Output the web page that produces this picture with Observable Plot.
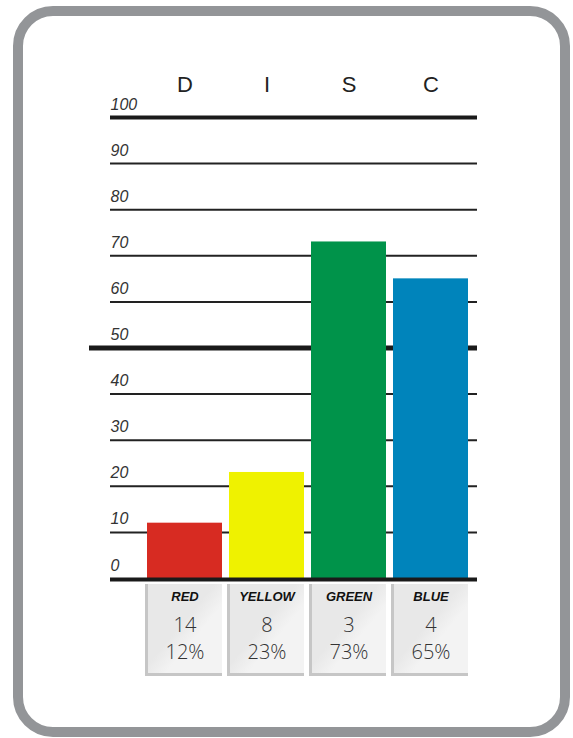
<!DOCTYPE html>
<html>
<head>
<meta charset="utf-8">
<script src="https://cdn.jsdelivr.net/npm/d3@7"></script>
<script src="https://cdn.jsdelivr.net/npm/@observablehq/plot@0.6"></script>
<style>
  html, body { margin: 0; padding: 0; background: #fff; }
  #wrap { position: relative; width: 573px; height: 738px; overflow: hidden; }
  #border { position: absolute; left: 13px; top: 6px; width: 537px; height: 711px;
            border: 10px solid #939598; border-radius: 40px; }
  #chart { position: absolute; left: 0; top: 0; }
</style>
</head>
<body>
<div id="wrap">
  <div id="border"></div>
  <div id="chart"></div>
</div>
<script>
const categories = ["D", "I", "S", "C"];
const colorNames = ["RED", "YELLOW", "GREEN", "BLUE"];
const counts = [14, 8, 3, 4];
const percents = [12, 23, 73, 65];
const barColors = ["#d72b22", "#eff200", "#00934a", "#0084bb"];
const yTicks = [0, 10, 20, 30, 40, 50, 60, 70, 80, 90, 100];

const data = categories.map((c, i) => ({
  cat: c, name: colorNames[i], count: counts[i], pct: percents[i], color: barColors[i]
}));

const defs = () => {
  const s = d3.create("svg:defs");
  const g = s.append("linearGradient").attr("id", "boxgrad")
    .attr("x1", "0").attr("y1", "0").attr("x2", "1").attr("y2", "1");
  g.append("stop").attr("offset", "0.45").attr("stop-color", "#e8e8e8");
  g.append("stop").attr("offset", "0.62").attr("stop-color", "#f3f3f3");
  return s.node();
};

const chart = Plot.plot({
  width: 573,
  height: 738,
  marginTop: 117,
  marginBottom: 160,
  marginLeft: 89,
  marginRight: 96,
  style: { background: "transparent", overflow: "visible" },
  x: { domain: categories, paddingInner: 0.0854, paddingOuter: 0.4085, align: 0.866, axis: null },
  y: { domain: [0, 100], axis: null },
  marks: [
    defs,
    Plot.ruleY(yTicks.filter(v => v !== 0 && v !== 50 && v !== 100), { stroke: "#222", strokeWidth: 2, insetLeft: 21 }),
    Plot.ruleY([100], { stroke: "#1a1a1a", strokeWidth: 4, insetLeft: 21 }),
    Plot.ruleY([50], { stroke: "#1a1a1a", strokeWidth: 5 }),
    Plot.text(yTicks, {
      y: d => d, text: d => String(d), frameAnchor: "left", dx: 21, dy: -8,
      textAnchor: "start", lineAnchor: "bottom", fontStyle: "italic", fontSize: 16,
      fill: "#333", fontFamily: "Liberation Sans, Arial, sans-serif"
    }),
    Plot.barY(data, { x: "cat", y: "pct", fill: "color" }),
    Plot.ruleY([0], { stroke: "#1a1a1a", strokeWidth: 4, insetLeft: 21, dy: 1 }),
    Plot.text(data, {
      x: "cat", text: "cat", frameAnchor: "top", dy: -33, lineAnchor: "middle",
      fontSize: 22, fill: "#222", fontFamily: "Liberation Sans, Arial, sans-serif"
    }),
    Plot.cell(data, { x: "cat", fill: "#c6c6c6", insetTop: 467, insetBottom: -98, insetLeft: -2, insetRight: 0 }),
    Plot.cell(data, { x: "cat", fill: "url(#boxgrad)", insetTop: 467, insetBottom: -95, insetLeft: 1, insetRight: 0 }),
    Plot.text(data, {
      x: "cat", text: "name", frameAnchor: "bottom", dy: 18, lineAnchor: "middle",
      fontSize: 13, fontWeight: "bold", fontStyle: "italic", fill: "#111",
      fontFamily: "Liberation Sans, Arial, sans-serif"
    }),
    Plot.text(data, {
      x: "cat", text: d => String(d.count), frameAnchor: "bottom", dy: 47, lineAnchor: "middle",
      fontSize: 20, fontWeight: 300, fill: "#333", fontFamily: "Open Sans, Lato, sans-serif"
    }),
    Plot.text(data, {
      x: "cat", text: d => d.pct + "%", frameAnchor: "bottom", dy: 74, lineAnchor: "middle",
      fontSize: 20, fontWeight: 300, fill: "#333", fontFamily: "Open Sans, Lato, sans-serif"
    })
  ]
});
document.getElementById("chart").appendChild(chart);
</script>
</body>
</html>
